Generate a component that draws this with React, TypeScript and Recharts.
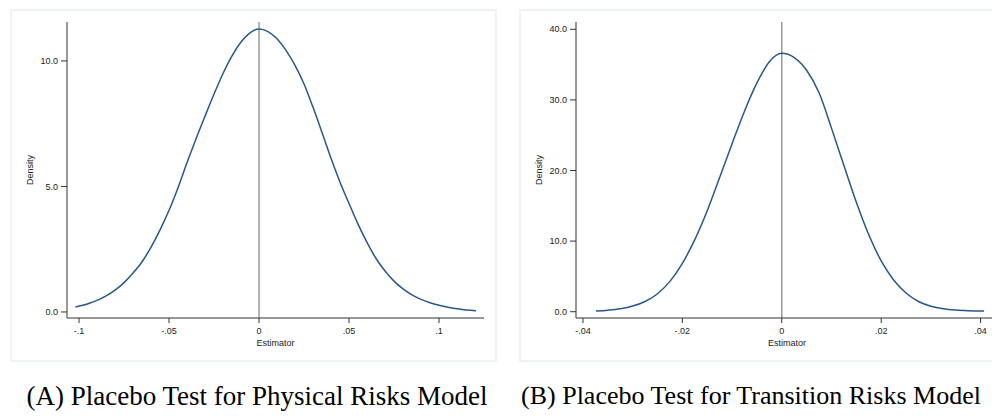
import { Label, Line, LineChart, ReferenceLine, XAxis, YAxis } from "recharts";

// Panel A: physical risks model (estimator vs density)
const physicalX = [
  -0.102, -0.095, -0.09, -0.085, -0.08, -0.075, -0.07, -0.065, -0.06, -0.055, -0.05, -0.045, -0.04,
  -0.035, -0.03, -0.025, -0.02, -0.015, -0.01, -0.005, 0, 0.005, 0.01, 0.015, 0.02, 0.025, 0.03,
  0.035, 0.04, 0.045, 0.05, 0.055, 0.06, 0.065, 0.07, 0.075, 0.08, 0.085, 0.09, 0.095, 0.1, 0.105,
  0.11, 0.115, 0.1206,
];
const physicalDensity = [
  0.2, 0.33, 0.46, 0.64, 0.87, 1.17, 1.55, 2.0, 2.58, 3.27, 4.05, 4.95, 5.95, 6.9, 7.8, 8.68, 9.5,
  10.2, 10.75, 11.12, 11.27, 11.17, 10.88, 10.42, 9.82, 9.08, 8.15, 7.15, 6.12, 5.17, 4.32, 3.5,
  2.77, 2.13, 1.63, 1.23, 0.92, 0.68, 0.5, 0.37, 0.27, 0.19, 0.13, 0.08, 0.05,
];
const physicalXTicks = [-0.1, -0.05, 0, 0.05, 0.1];
const physicalXLabels = ["-.1", "-.05", "0", ".05", ".1"];
const physicalYTicks = [0, 5, 10];
const physicalYLabels = ["0.0", "5.0", "10.0"];

// Panel B: transition risks model
const transitionX = [
  -0.0374, -0.035, -0.0325, -0.03, -0.0275, -0.025, -0.0225, -0.02, -0.0175, -0.015, -0.0125, -0.01,
  -0.0075, -0.005, -0.0025, 0, 0.0025, 0.005, 0.0075, 0.01, 0.0125, 0.015, 0.0175, 0.02, 0.0225,
  0.025, 0.0275, 0.03, 0.0325, 0.035, 0.0375, 0.0407,
];
const transitionDensity = [
  0.1, 0.22, 0.42, 0.8, 1.45, 2.55, 4.3, 6.85, 10.2, 14.3, 19.0, 23.8, 28.4, 32.4, 35.4, 36.6, 36.0,
  34.2, 31.0, 26.0, 20.7, 15.5, 10.9, 7.2, 4.5, 2.65, 1.45, 0.78, 0.42, 0.24, 0.15, 0.1,
];
const transitionXTicks = [-0.04, -0.02, 0, 0.02, 0.04];
const transitionXLabels = ["-.04", "-.02", "0", ".02", ".04"];
const transitionYTicks = [0, 10, 20, 30, 40];
const transitionYLabels = ["0.0", "10.0", "20.0", "30.0", "40.0"];

const captions = [
  "(A) Placebo Test for Physical Risks Model",
  "(B) Placebo Test for Transition Risks Model",
];

const sans = "'Liberation Sans', Arial, sans-serif";
const axisColor = "#333";
const curveColor = "#27588b";

type PanelProps = {
  xs: number[];
  ys: number[];
  xTicks: number[];
  xLabels: string[];
  yTicks: number[];
  yLabels: string[];
  xDomain: [number, number];
  yDomain: [number, number];
  width: number;
};

const labelFor = (ticks: number[], labels: string[]) => (v: number) => {
  const i = ticks.findIndex((t) => Math.abs(t - v) < 1e-9);
  return i >= 0 ? labels[i] : String(v);
};

const DensityLabel = (props: any) => {
  const vb = props.viewBox || {};
  const cx = (vb.x ?? 0) + 20;
  const cy = (vb.y ?? 0) + (vb.height ?? 0) / 2;
  return (
    <text
      x={cx}
      y={cy}
      transform={`rotate(-90 ${cx} ${cy})`}
      textAnchor="middle"
      dominantBaseline="central"
      fontSize={9}
      fontFamily={sans}
      fill="#222"
    >
      Density
    </text>
  );
};

const DensityPanel = ({ xs, ys, xTicks, xLabels, yTicks, yLabels, xDomain, yDomain, width }: PanelProps) => {
  const data = xs.map((x, i) => ({ x, y: ys[i] }));
  const tick = { fontSize: 9, fill: "#222", fontFamily: sans };
  return (
    <LineChart width={width} height={353} data={data} margin={{ top: 13, right: 13, left: 0, bottom: 0 }}>
      <XAxis
        type="number"
        dataKey="x"
        domain={xDomain}
        ticks={xTicks}
        tickFormatter={labelFor(xTicks, xLabels)}
        allowDataOverflow
        height={44}
        stroke={axisColor}
        tickSize={5}
        tickMargin={5}
        tick={tick}
        interval={0}
      >
        <Label value="Estimator" position="insideBottom" offset={16} fontSize={9} fill="#222" fontFamily={sans} />
      </XAxis>
      <YAxis
        type="number"
        domain={yDomain}
        ticks={yTicks}
        tickFormatter={labelFor(yTicks, yLabels)}
        allowDataOverflow
        width={57}
        stroke={axisColor}
        tickSize={6}
        tickMargin={3}
        tick={tick}
        interval={0}
      >
        <Label content={DensityLabel} />
      </YAxis>
      <ReferenceLine x={0} stroke="#9a9a9a" strokeWidth={1.5} ifOverflow="extendDomain" />
      <Line
        type="monotone"
        dataKey="y"
        stroke={curveColor}
        strokeWidth={1.5}
        dot={false}
        activeDot={false}
        isAnimationActive={false}
      />
    </LineChart>
  );
};

const frame = {
  position: "absolute" as const,
  top: 9,
  height: 353,
  boxSizing: "border-box" as const,
  border: "2px solid #eef3f6",
};

export default function App() {
  return (
    <div
      style={{
        position: "absolute",
        left: 0,
        top: 0,
        width: 992,
        height: 416,
        overflow: "hidden",
        background: "#fff",
      }}
    >
      <div style={{ ...frame, left: 10, width: 487 }} />
      <div style={{ ...frame, left: 519, width: 492 }} />
      <div style={{ position: "absolute", left: 10, top: 9 }}>
        <DensityPanel
          xs={physicalX}
          ys={physicalDensity}
          xTicks={physicalXTicks}
          xLabels={physicalXLabels}
          yTicks={physicalYTicks}
          yLabels={physicalYLabels}
          xDomain={[-0.1067, 0.125]}
          yDomain={[-0.24, 11.55]}
          width={487}
        />
      </div>
      <div style={{ position: "absolute", left: 519, top: 9 }}>
        <DensityPanel
          xs={transitionX}
          ys={transitionDensity}
          xTicks={transitionXTicks}
          xLabels={transitionXLabels}
          yTicks={transitionYTicks}
          yLabels={transitionYLabels}
          xDomain={[-0.0414, 0.0435]}
          yDomain={[-0.89, 41.03]}
          width={492}
        />
      </div>
      {captions.map((c, i) => (
        <div
          key={c}
          style={{
            position: "absolute",
            left: i === 0 ? 7 : 501,
            width: 500,
            top: 380,
            textAlign: "center",
            fontFamily: "'Liberation Serif', 'Times New Roman', serif",
            fontSize: i === 0 ? 27 : 26,
            lineHeight: "32px",
            color: "#000",
            whiteSpace: "nowrap",
          }}
        >
          {c}
        </div>
      ))}
    </div>
  );
}
